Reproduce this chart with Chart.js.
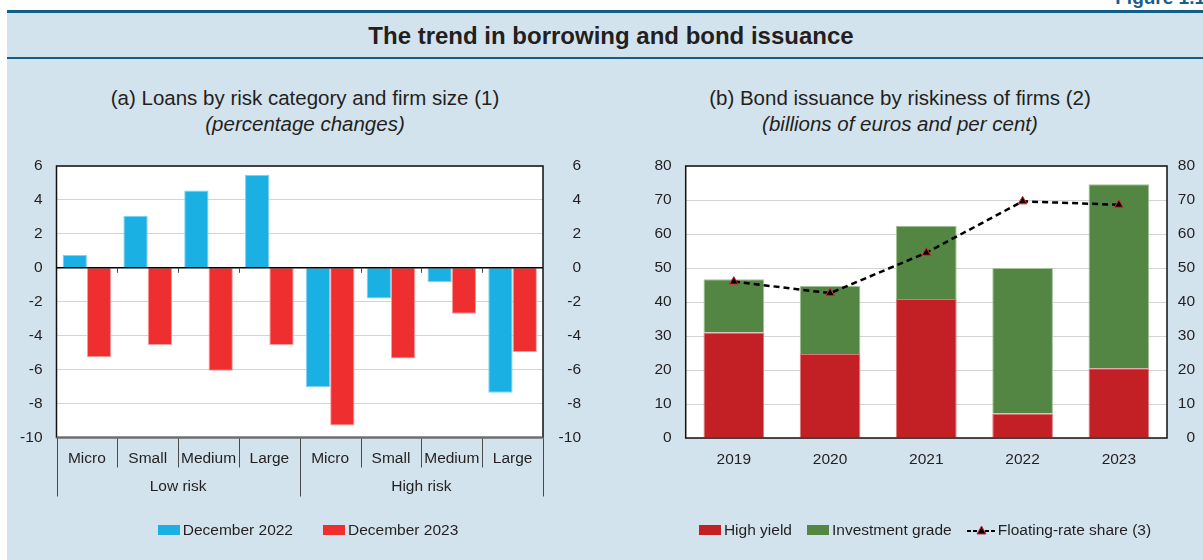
<!DOCTYPE html>
<html>
<head>
<meta charset="utf-8">
<title>The trend in borrowing and bond issuance</title>
<script src="https://cdn.jsdelivr.net/npm/chart.js@4.4.1/dist/chart.umd.min.js"></script>
<style>
  html, body { margin: 0; padding: 0; background: #fff; }
  body {
    width: 1203px; height: 560px; position: relative; overflow: hidden;
    font-family: "Liberation Sans", Arial, Helvetica, sans-serif; color: #231f20;
  }
  .fig-no {
    position: absolute; right: -2px; top: -12px; font-size: 19px; line-height: 19px;
    font-weight: bold; color: #1a5d8c;
  }
  .panel {
    position: absolute; left: 7px; top: 10px; right: 0; bottom: 0;
    background: #d3e3ee; border-top: 3px solid #115e89;
  }
  .title {
    position: absolute; left: 7px; right: 0; top: 13px; height: 44px;
    border-bottom: 2px solid #115e89; text-align: center; text-indent: 12px;
    font-weight: bold; font-size: 24px; line-height: 45px;
  }
  .sub { position: absolute; width: 600px; text-align: center; font-size: 20.5px; line-height: 24px; }
  .sub i { display: block; margin-top: 2px; }
  canvas { position: absolute; top: 140px; }
  .legend {
    position: absolute; top: 521px; height: 18px; display: flex; justify-content: center;
    align-items: center; font-size: 15.5px; line-height: 18px;
  }
  .legend .item { display: flex; align-items: center; }
  .legend .sw { width: 22px; height: 10px; margin-right: 3px; }
  .legend canvas { position: static; margin-right: 2px; }
</style>
</head>
<body>
<div class="fig-no">Figure 1.1</div>
<div class="panel"></div>
<div class="title">The trend in borrowing and bond issuance</div>

<div class="sub" style="left:5px; top:86px;">(a) Loans by risk category and firm size (1)<i>(percentage changes)</i></div>
<div class="sub" style="left:600px; top:86px;">(b) Bond issuance by riskiness of firms (2)<i>(billions of euros and per cent)</i></div>

<canvas id="loansChart" width="600" height="420" style="left:0;"></canvas>
<canvas id="bondsChart" width="603" height="420" style="left:600px;"></canvas>

<div class="legend" id="loansLegend" style="left:0; width:616px; gap:30px;"></div>
<div class="legend" id="bondsLegend" style="left:645px; width:560px; gap:15px;"></div>

<script>
// (a) loans, percentage changes
const sizeLabels = ['Micro', 'Small', 'Medium', 'Large', 'Micro', 'Small', 'Medium', 'Large'];
const riskGroups = ['Low risk', 'High risk'];
const loansDec2022 = [0.75, 3.07, 4.56, 5.49, -7.02, -1.81, -0.85, -7.36];
const loansDec2023 = [-5.27, -4.55, -6.06, -4.55, -9.29, -5.35, -2.70, -4.96];
const loanTicks = [-10, -8, -6, -4, -2, 0, 2, 4, 6];

// (b) bond issuance, billions of euros (bars) and per cent (line)
const years = ['2019', '2020', '2021', '2022', '2023'];
const highYield = [31.0, 24.7, 40.9, 7.2, 20.5];
const investmentGrade = [15.7, 20.0, 21.5, 42.8, 54.1];
const floatingShare = [46.0, 42.6, 54.5, 69.6, 68.6];
const bondTicks = [0, 10, 20, 30, 40, 50, 60, 70, 80];

const FONT = '"Liberation Sans", Arial, Helvetica, sans-serif';
const TEXT = '#231f20';
const GRID = '#d4d4d4';

Chart.defaults.font.family = FONT;
Chart.defaults.font.size = 15.5;
Chart.defaults.color = TEXT;

// white plot area with a black frame, optional zero line
const plotFrame = {
  id: 'plotFrame',
  beforeDraw(chart) {
    const { ctx, chartArea: a } = chart;
    ctx.save();
    ctx.fillStyle = '#fff';
    ctx.fillRect(a.left, a.top, a.width, a.height);
    ctx.restore();
  },
  afterDatasetsDraw(chart, args, opts) {
    const { ctx, chartArea: a } = chart;
    ctx.save();
    ctx.lineWidth = 1.5;
    ctx.strokeStyle = '#111';
    ctx.strokeRect(a.left, a.top, a.width, a.height);
    if (opts.bottomColor) {
      ctx.strokeStyle = opts.bottomColor;
      ctx.lineWidth = 2;
      ctx.beginPath();
      ctx.moveTo(a.left, a.bottom);
      ctx.lineTo(a.right, a.bottom);
      ctx.stroke();
    }
    if (opts.zeroLine) {
      const y0 = chart.scales.y.getPixelForValue(0);
      ctx.strokeStyle = '#000';
      ctx.lineWidth = 1.5;
      ctx.beginPath();
      ctx.moveTo(a.left, y0);
      ctx.lineTo(a.right, y0);
      ctx.stroke();
    }
    ctx.restore();
  }
};

// two-level category axis: firm size separators + risk group labels
const riskAxis = {
  id: 'riskAxis',
  afterDraw(chart) {
    const { ctx, chartArea: a, scales: { x, y } } = chart;
    const n = sizeLabels.length;
    const perGroup = n / riskGroups.length;
    const edge = i => i === 0 ? a.left : i === n ? a.right
      : (x.getPixelForValue(i - 1) + x.getPixelForValue(i)) / 2;
    const y0 = y.getPixelForValue(0);

    ctx.save();
    ctx.strokeStyle = '#4a4a4a';
    ctx.lineWidth = 1;
    for (let i = 0; i <= n; i++) {
      const px = Math.round(edge(i)) + 0.5;
      const groupEdge = i % perGroup === 0;
      ctx.beginPath();
      ctx.moveTo(px, a.bottom + 1);
      ctx.lineTo(px, a.bottom + (groupEdge ? 59 : 30));
      ctx.stroke();
      if (!groupEdge) {
        ctx.beginPath();
        ctx.moveTo(px, y0);
        ctx.lineTo(px, y0 + 5);
        ctx.stroke();
      }
    }
    ctx.fillStyle = TEXT;
    ctx.font = '15.5px ' + FONT;
    ctx.textAlign = 'center';
    ctx.textBaseline = 'middle';
    riskGroups.forEach((name, k) => {
      const cx = (edge(k * perGroup) + edge((k + 1) * perGroup)) / 2;
      ctx.fillText(name, cx, a.bottom + 49);
    });
    ctx.restore();
  }
};

// value axis with fixed tick list and a fixed box width;
// right-hand labels are right-aligned against the box's outer edge
function valueAxis(ticks, position, padding, width, extra) {
  return Object.assign({
    position,
    min: ticks[0],
    max: ticks[ticks.length - 1],
    afterBuildTicks: s => { s.ticks = ticks.map(value => ({ value })); },
    afterFit: s => { s.width = width; },
    border: { display: false },
    grid: { color: GRID, drawTicks: false, drawOnChartArea: position === 'left' },
    ticks: { padding, color: TEXT, crossAlign: position === 'right' ? 'far' : 'near' }
  }, extra || {});
}

const loansChart = new Chart(document.getElementById('loansChart'), {
  type: 'bar',
  data: {
    labels: sizeLabels,
    datasets: [
      { label: 'December 2022', data: loansDec2022, backgroundColor: '#1bb0e4',
        borderColor: '#7fd3f0', borderWidth: 1 },
      { label: 'December 2023', data: loansDec2023, backgroundColor: '#ee2e2f',
        borderColor: '#f7a0a0', borderWidth: 1 }
    ]
  },
  options: {
    responsive: false,
    animation: false,
    devicePixelRatio: 1,
    categoryPercentage: 0.8,
    barPercentage: 1,
    layout: { padding: { top: 26, left: 0, right: 19, bottom: 62.5 } },
    scales: {
      x: {
        grid: { display: false },
        border: { display: false },
        ticks: { padding: 4, color: TEXT, autoSkip: false, maxRotation: 0 },
        afterFit: s => { s.height = 60; }
      },
      y: valueAxis(loanTicks, 'left', 14, 56.5),
      y2: valueAxis(loanTicks, 'right', 14, 38)
    },
    plugins: {
      legend: { display: false },
      tooltip: { enabled: false },
      plotFrame: { zeroLine: true, bottomColor: '#6b6b6b' }
    }
  },
  plugins: [plotFrame, riskAxis]
});

const bondsChart = new Chart(document.getElementById('bondsChart'), {
  type: 'bar',
  data: {
    labels: years,
    datasets: [
      { label: 'High yield', data: highYield, backgroundColor: '#c32026',
        borderColor: '#d9777a', borderWidth: 1, order: 1 },
      { label: 'Investment grade', data: investmentGrade, backgroundColor: '#538642',
        borderColor: '#a3c096', borderWidth: 1, order: 1 },
      { type: 'line', label: 'Floating-rate share (3)', data: floatingShare, yAxisID: 'y2',
        borderColor: '#000', borderWidth: 2.5, borderDash: [6, 4], fill: false, tension: 0,
        pointStyle: 'triangle', pointRadius: 5, pointBackgroundColor: '#000',
        pointBorderColor: '#e3262b', pointBorderWidth: 1, order: 0 }
    ]
  },
  options: {
    responsive: false,
    animation: false,
    devicePixelRatio: 1,
    categoryPercentage: 0.63,
    barPercentage: 1,
    layout: { padding: { top: 26, left: 0, right: 8, bottom: 62 } },
    scales: {
      x: {
        stacked: true,
        grid: { display: false },
        border: { display: false },
        ticks: { padding: 4, color: TEXT, maxRotation: 0 },
        afterFit: s => { s.height = 60; }
      },
      y: valueAxis(bondTicks, 'left', 14, 85.7, { stacked: true }),
      y2: valueAxis(bondTicks, 'right', 11, 28)
    },
    plugins: {
      legend: { display: false },
      tooltip: { enabled: false },
      plotFrame: {}
    }
  },
  plugins: [plotFrame]
});

// legend symbol for the dashed line with triangle marker
function lineSymbol(ds) {
  const c = document.createElement('canvas');
  c.width = 29; c.height = 14;
  const g = c.getContext('2d');
  g.strokeStyle = ds.borderColor;
  g.lineWidth = 2;
  g.setLineDash([4, 2]);
  g.beginPath(); g.moveTo(0, 8); g.lineTo(29, 8); g.stroke();
  g.setLineDash([]);
  g.fillStyle = ds.pointBackgroundColor;
  g.strokeStyle = ds.pointBorderColor;
  g.lineWidth = 1;
  g.beginPath(); g.moveTo(14.5, 3); g.lineTo(19, 11); g.lineTo(10, 11); g.closePath();
  g.fill(); g.stroke();
  return c;
}

function buildLegend(id, chart) {
  const box = document.getElementById(id);
  chart.data.datasets.forEach(ds => {
    const item = document.createElement('div');
    item.className = 'item';
    if (ds.type === 'line') {
      item.appendChild(lineSymbol(ds));
    } else {
      const sw = document.createElement('span');
      sw.className = 'sw';
      sw.style.background = ds.backgroundColor;
      item.appendChild(sw);
    }
    const txt = document.createElement('span');
    txt.textContent = ds.label;
    item.appendChild(txt);
    box.appendChild(item);
  });
}

buildLegend('loansLegend', loansChart);
buildLegend('bondsLegend', bondsChart);
</script>
</body>
</html>
